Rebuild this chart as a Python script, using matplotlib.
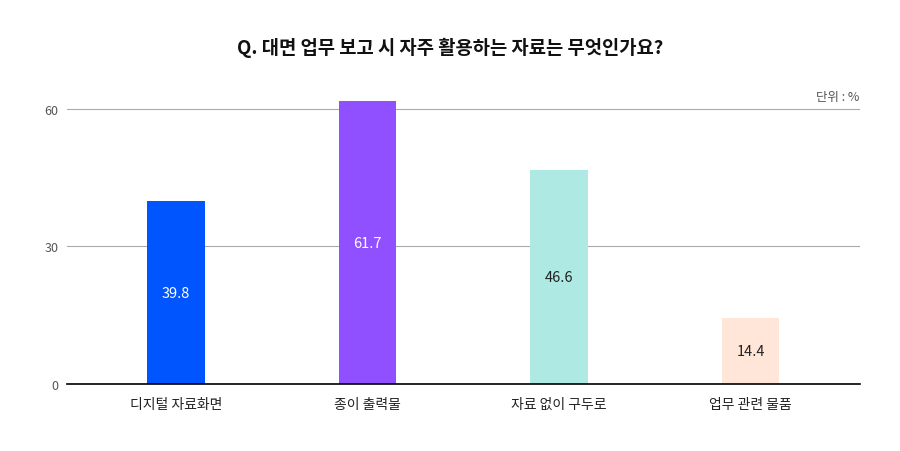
"""Bar chart: materials used in face-to-face reports"""

import matplotlib
matplotlib.use('Agg')
from matplotlib import pyplot as plt

plt.rcParams['font.family'] = ['Noto Sans CJK KR', 'DejaVu Sans']

# Data
categories = ['디지털 자료화면', '종이 출력물', '자료 없이 구두로', '업무 관련 물품']
values = [39.8, 61.7, 46.6, 14.4]
bar_colors = ['#0055ff', '#9150ff', '#aee9e3', '#ffe6d8']
label_colors = ['white', 'white', '#222222', '#222222']
yticks = [0, 30, 60]

fig = plt.figure(figsize=(9, 4.52), dpi=100)
ax = fig.add_axes([0.0744, 0.148, 0.881, 0.66])

xpos = list(range(len(categories)))
ax.bar(xpos, values, width=0.30, color=bar_colors, zorder=3)

# Value labels in the middle of each bar
for x, v, c in zip(xpos, values, label_colors):
    ax.text(x, v / 2., f'{v:.1f}', ha='center', va='center', color=c,
            fontsize=10.5, zorder=4)

ax.set_xlim(-0.57, 3.57)
ax.set_ylim(0, 65)
ax.set_yticks(yticks)
ax.set_yticklabels([str(t) for t in yticks], color='#555555', fontsize=9)
ax.set_xticks(xpos)
ax.set_xticklabels(categories, fontsize=10, color='#222222')
ax.tick_params(axis='both', length=0)
ax.tick_params(axis='y', pad=6)
ax.tick_params(axis='x', pad=9)

ax.grid(axis='y', color='#aaaaaa', linewidth=0.8, zorder=0)
for side in ['top', 'right', 'left']:
    ax.spines[side].set_visible(False)
ax.spines['bottom'].set_color('black')
ax.spines['bottom'].set_linewidth(1.2)
ax.spines['bottom'].set_zorder(5)

# Title and unit
fig.text(0.5, 0.893, 'Q. 대면 업무 보고 시 자주 활용하는 자료는 무엇인가요?',
         ha='center', va='center', fontsize=13.5, fontweight='bold', color='#111111')
fig.text(0.955, 0.785, '단위 : %', ha='right', va='center', fontsize=9, color='#555555')

plt.savefig('out.png', dpi=100)
